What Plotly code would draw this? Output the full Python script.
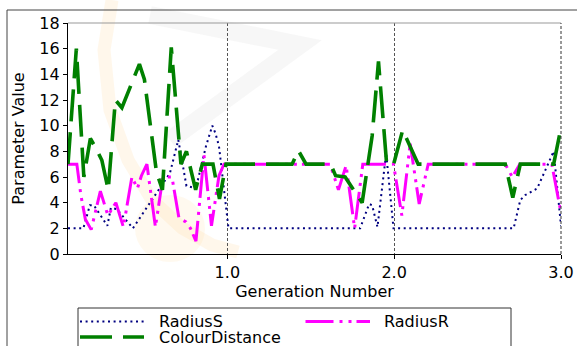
import plotly.graph_objects as go

# ---------------- data ----------------
radius_s_x = [0.045, 0.137, 0.176, 0.200, 0.281, 0.302, 0.338, 0.434, 0.578, 0.656, 0.706, 0.755,
              0.788, 0.824, 0.872, 0.910, 0.929, 0.950, 1.007, 1.796, 1.850, 1.868, 1.900, 1.952,
              1.996, 2.716, 2.756, 2.786, 2.857, 2.956, 3.0]
radius_s_y = [2.0, 2.0, 3.8, 3.8, 2.2, 3.6, 3.5, 2.0, 4.8, 6.3, 8.9, 5.3,
              5.2, 5.8, 8.4, 10.0, 9.4, 8.4, 2.0, 2.0, 3.9, 3.8, 2.1, 7.85,
              2.0, 2.0, 4.2, 4.6, 5.1, 8.0, 2.2]

radius_r_x = [0.045, 0.098, 0.122, 0.149, 0.184, 0.239, 0.284, 0.332, 0.377, 0.428, 0.461, 0.485,
              0.518, 0.569, 0.614, 0.668, 0.710, 0.752, 0.779, 0.812, 0.860, 0.905, 0.950, 0.980,
              1.616, 1.666, 1.712, 1.763, 1.812, 1.996, 2.046, 2.096, 2.150, 2.204, 2.666, 2.708,
              2.753, 2.945, 3.0]
radius_r_y = [7.0, 7.0, 4.6, 2.7, 1.9, 4.9, 3.0, 4.0, 2.1, 6.0, 5.1, 6.1,
              7.0, 2.1, 6.0, 6.0, 2.8, 2.5, 2.0, 1.0, 7.7, 2.2, 6.1, 7.0,
              7.0, 5.0, 6.9, 2.0, 7.0, 7.0, 3.0, 8.6, 3.9, 7.0, 7.0, 6.0,
              7.0, 7.0, 3.2]

colour_x = [0.045, 0.083, 0.095, 0.140, 0.179, 0.218, 0.248, 0.286, 0.329, 0.368, 0.473, 0.503,
            0.575, 0.611, 0.664, 0.722, 0.755, 0.810, 0.850, 0.914, 0.953, 0.992, 1.388, 1.426,
            1.472, 1.619, 1.649, 1.706, 1.808, 1.868, 1.906, 1.955, 1.997, 2.051, 2.144, 2.666,
            2.711, 2.756, 2.956, 3.0]
colour_y = [7.0, 14.5, 16.0, 6.0, 9.0, 8.1, 7.3, 5.0, 12.0, 11.4, 14.8, 13.6,
            6.4, 5.0, 16.1, 7.0, 8.0, 5.0, 7.0, 7.0, 4.3, 7.0, 7.0, 8.05,
            7.0, 7.0, 6.1, 6.0, 4.0, 9.2, 15.0, 7.0, 7.0, 9.65, 7.0, 7.0,
            4.4, 7.0, 7.0, 9.85]

y_ticks = [0, 2, 4, 6, 8, 10, 12, 14, 16, 18]
x_ticks = [1.0, 2.0, 3.0]
x_tick_labels = ["1.0", "2.0", "3.0"]

NAVY, MAGENTA, GREEN = "#000080", "#ff00ff", "#008000"
DASH_S = "2px,3.6px"
DASH_R = "28px,6px,3px,6px,3px,5px"
DASH_C = "32px,11px"
FONT = "DejaVu Sans"

# plot area in pixels
L, R, T, B = 68, 561, 23, 254
W, H = 577, 346


def px(xp):
    return (xp - L) / (R - L)


def py(yp):
    return (B - yp) / (B - T)


fig = go.Figure()
fig.add_trace(go.Scatter(x=radius_s_x, y=radius_s_y, mode="lines", name="RadiusS",
                         line=dict(color=NAVY, width=2, dash=DASH_S), showlegend=False))
fig.add_trace(go.Scatter(x=radius_r_x, y=radius_r_y, mode="lines", name="RadiusR",
                         line=dict(color=MAGENTA, width=3, dash=DASH_R), showlegend=False))
fig.add_trace(go.Scatter(x=colour_x, y=colour_y, mode="lines", name="ColourDistance",
                         line=dict(color=GREEN, width=3.6, dash=DASH_C), showlegend=False))

shapes = []


def path_px(points):
    s = "M %f,%f " % (px(points[0][0]), py(points[0][1]))
    for p in points[1:]:
        s += "L %f,%f " % (px(p[0]), py(p[1]))
    return s


# faint watermark
shapes.append(dict(type="path", xref="paper", yref="paper", layer="below",
                   path=path_px([(150, 15), (300, 45), (170, 140)]),
                   line=dict(color="rgba(190,190,190,0.12)", width=18)))
shapes.append(dict(type="path", xref="paper", yref="paper", layer="below",
                   path=path_px([(112, 0), (104, 50), (110, 110), (128, 160), (152, 200),
                                 (182, 228), (212, 245), (238, 252)]),
                   line=dict(color="rgba(252,205,130,0.16)", width=13)))
shapes.append(dict(type="circle", xref="paper", yref="paper", layer="below",
                   x0=px(135), x1=px(205), y0=py(262), y1=py(195),
                   fillcolor="rgba(252,215,150,0.15)", line=dict(width=0)))

# outer frame
shapes.append(dict(type="rect", xref="paper", yref="paper", x0=px(7), x1=px(600),
                   y0=py(400), y1=py(10), line=dict(color="#444444", width=1)))
# top border of the axes and dotted right edge
shapes.append(dict(type="line", xref="paper", yref="paper", x0=0, x1=1, y0=1, y1=1,
                   line=dict(color="#999999", width=1)))
shapes.append(dict(type="line", xref="paper", yref="paper", x0=1, x1=1, y0=0, y1=1,
                   line=dict(color="#333333", width=1, dash="3px,2px")))

# legend (drawn manually to match handle lengths)
shapes.append(dict(type="rect", xref="paper", yref="paper", x0=px(78), x1=px(511),
                   y0=py(380), y1=py(308), line=dict(color="#333333", width=1),
                   fillcolor="white"))
row1, row2 = 321.5, 337
legend_items = [("RadiusS", NAVY, 2, DASH_S, 80, 144, 157, row1),
                ("RadiusR", MAGENTA, 3, DASH_R, 305.5, 370, 382, row1),
                ("ColourDistance", GREEN, 3.6, DASH_C, 80, 144, 157, row2)]
annotations = []
for name, col, wdt, dsh, hx0, hx1, tx, ry in legend_items:
    shapes.append(dict(type="line", xref="paper", yref="paper", x0=px(hx0), x1=px(hx1),
                       y0=py(ry), y1=py(ry), line=dict(color=col, width=wdt, dash=dsh)))
    annotations.append(dict(text=name, xref="paper", yref="paper", x=px(tx), y=py(ry),
                            xanchor="left", yanchor="middle", showarrow=False,
                            font=dict(family=FONT, size=16, color="black")))

fig.update_layout(
    width=W, height=H,
    margin=dict(l=L, r=W - R, t=T, b=H - B, autoexpand=False),
    paper_bgcolor="white", plot_bgcolor="rgba(0,0,0,0)",
    font=dict(family=FONT, size=16, color="black"),
    shapes=shapes, annotations=annotations,
    showlegend=False,
)
fig.update_xaxes(range=[0.045, 3.0], tickvals=x_ticks, ticktext=x_tick_labels,
                 ticks="outside", ticklen=4, tickcolor="black", automargin=False,
                 showline=True, linecolor="black", linewidth=1.2,
                 showgrid=True, gridcolor="#555555", gridwidth=1, griddash="3px,2px",
                 zeroline=False,
                 title=dict(text="Generation Number", standoff=4,
                            font=dict(family=FONT, size=16)))
fig.update_yaxes(range=[0, 18], tickvals=y_ticks, automargin=False,
                 ticks="outside", ticklen=4, tickcolor="black",
                 showline=True, linecolor="black", linewidth=1.2,
                 showgrid=False, zeroline=False,
                 title=dict(text="Parameter Value", standoff=10,
                            font=dict(family=FONT, size=16)))

fig.write_html("out.html", config={"displayModeBar": False},
               post_script="document.body.style.margin='0';document.body.style.padding='0';"
                           "document.body.style.overflow='hidden';")
